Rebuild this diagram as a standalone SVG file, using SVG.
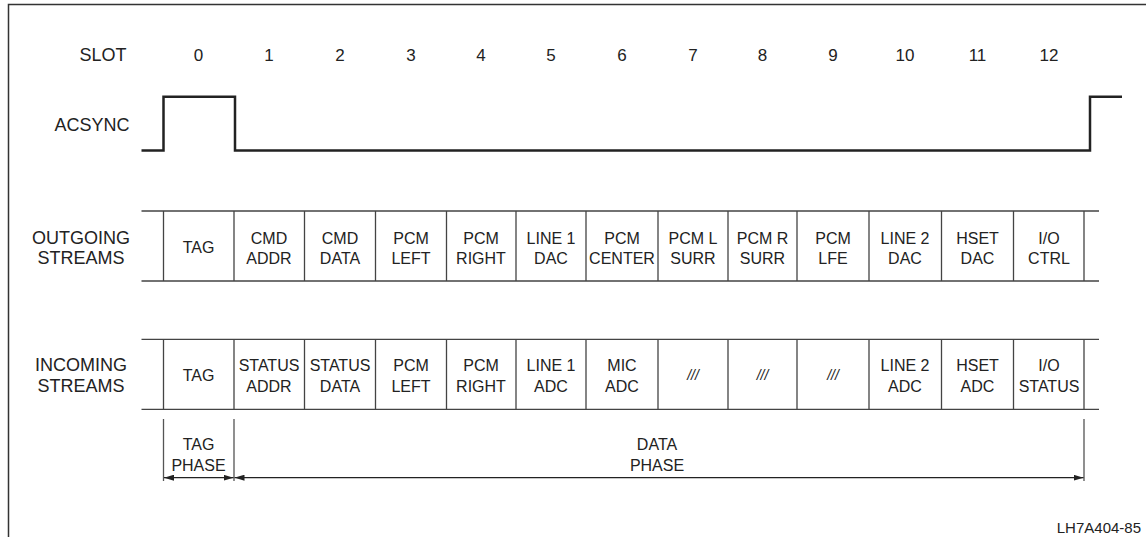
<svg xmlns="http://www.w3.org/2000/svg" width="1146" height="537" viewBox="0 0 1146 537">
<style>
text{font-family:"Liberation Sans",Arial,sans-serif;fill:#222;}
.lbl{font-size:18px;text-anchor:middle;}
.num{font-size:17px;text-anchor:middle;}
.cell{font-size:16px;text-anchor:middle;}
.na{font-size:14px;font-style:italic;text-anchor:middle;}
.frame{stroke:#333;stroke-width:1.5;fill:none;}
.grid{stroke:#444;stroke-width:1.3;fill:none;}
.sig{stroke:#222;stroke-width:2.5;fill:none;}
.dim{stroke:#222;stroke-width:1.2;fill:none;}
.ext{stroke:#555;stroke-width:1.3;fill:none;}
</style>
<defs>
<marker id="ah" viewBox="0 0 10 6" refX="10" refY="3" markerWidth="10" markerHeight="6" markerUnits="userSpaceOnUse" orient="auto-start-reverse">
<path d="M0,0 L10,3 L0,6 Z" fill="#222"/>
</marker>
</defs>
<g id="frame">
<path class="frame" d="M8.5,537 V4.5 H1146"/>
</g>
<g id="slot-row">
<text class="lbl" x="103" y="61">SLOT</text>
<text class="num" x="198.5" y="61">0</text>
<text class="num" x="269" y="61">1</text>
<text class="num" x="340" y="61">2</text>
<text class="num" x="411" y="61">3</text>
<text class="num" x="481" y="61">4</text>
<text class="num" x="551" y="61">5</text>
<text class="num" x="622" y="61">6</text>
<text class="num" x="693" y="61">7</text>
<text class="num" x="762.5" y="61">8</text>
<text class="num" x="833" y="61">9</text>
<text class="num" x="905" y="61">10</text>
<text class="num" x="977.5" y="61">11</text>
<text class="num" x="1049" y="61">12</text>
</g>
<g id="acsync">
<text class="lbl" x="92" y="131">ACSYNC</text>
<path class="sig" d="M141.5,150.5 H163.5 V96.8 H235 V150.5 H1090 V96.8 H1122"/>
</g>
<g id="outgoing">
<text class="lbl" x="81" y="243.5">OUTGOING</text>
<text class="lbl" x="81" y="263.5">STREAMS</text>
<path class="grid" d="M141.5,211 H1099 M141.5,281 H1099 M163.5,211 V281 M234,211 V281 M304.5,211 V281 M375.5,211 V281 M446.5,211 V281 M516,211 V281 M586,211 V281 M658,211 V281 M728,211 V281 M797,211 V281 M869,211 V281 M941.5,211 V281 M1013.5,211 V281 M1084,211 V281"/>
<text class="cell" x="198.5" y="252.5">TAG</text>
<text class="cell" x="269" y="243.5">CMD</text><text class="cell" x="269" y="263.5">ADDR</text>
<text class="cell" x="340" y="243.5">CMD</text><text class="cell" x="340" y="263.5">DATA</text>
<text class="cell" x="411" y="243.5">PCM</text><text class="cell" x="411" y="263.5">LEFT</text>
<text class="cell" x="481" y="243.5">PCM</text><text class="cell" x="481" y="263.5">RIGHT</text>
<text class="cell" x="551" y="243.5">LINE 1</text><text class="cell" x="551" y="263.5">DAC</text>
<text class="cell" x="622" y="243.5">PCM</text><text class="cell" x="622" y="263.5">CENTER</text>
<text class="cell" x="693" y="243.5">PCM L</text><text class="cell" x="693" y="263.5">SURR</text>
<text class="cell" x="762.5" y="243.5">PCM R</text><text class="cell" x="762.5" y="263.5">SURR</text>
<text class="cell" x="833" y="243.5">PCM</text><text class="cell" x="833" y="263.5">LFE</text>
<text class="cell" x="905" y="243.5">LINE 2</text><text class="cell" x="905" y="263.5">DAC</text>
<text class="cell" x="977.5" y="243.5">HSET</text><text class="cell" x="977.5" y="263.5">DAC</text>
<text class="cell" x="1049" y="243.5">I/O</text><text class="cell" x="1049" y="263.5">CTRL</text>
</g>
<g id="incoming">
<text class="lbl" x="81" y="371">INCOMING</text>
<text class="lbl" x="81" y="391.5">STREAMS</text>
<path class="grid" d="M141.5,339.3 H1099 M141.5,409.3 H1099 M163.5,339.3 V409.3 M234,339.3 V409.3 M304.5,339.3 V409.3 M375.5,339.3 V409.3 M446.5,339.3 V409.3 M516,339.3 V409.3 M586,339.3 V409.3 M658,339.3 V409.3 M728,339.3 V409.3 M797,339.3 V409.3 M869,339.3 V409.3 M941.5,339.3 V409.3 M1013.5,339.3 V409.3 M1084,339.3 V409.3"/>
<text class="cell" x="198.5" y="380.5">TAG</text>
<text class="cell" x="269" y="371">STATUS</text><text class="cell" x="269" y="391.5">ADDR</text>
<text class="cell" x="340" y="371">STATUS</text><text class="cell" x="340" y="391.5">DATA</text>
<text class="cell" x="411" y="371">PCM</text><text class="cell" x="411" y="391.5">LEFT</text>
<text class="cell" x="481" y="371">PCM</text><text class="cell" x="481" y="391.5">RIGHT</text>
<text class="cell" x="551" y="371">LINE 1</text><text class="cell" x="551" y="391.5">ADC</text>
<text class="cell" x="622" y="371">MIC</text><text class="cell" x="622" y="391.5">ADC</text>
<text class="na" x="693" y="380">///</text>
<text class="na" x="762.5" y="380">///</text>
<text class="na" x="833" y="380">///</text>
<text class="cell" x="905" y="371">LINE 2</text><text class="cell" x="905" y="391.5">ADC</text>
<text class="cell" x="977.5" y="371">HSET</text><text class="cell" x="977.5" y="391.5">ADC</text>
<text class="cell" x="1049" y="371">I/O</text><text class="cell" x="1049" y="391.5">STATUS</text>
</g>
<g id="tag-phase">
<text class="cell" x="198.5" y="450">TAG</text>
<text class="cell" x="198.5" y="470.5">PHASE</text>
</g>
<g id="data-phase">
<text class="cell" x="657" y="450">DATA</text>
<text class="cell" x="657" y="470.5">PHASE</text>
</g>
<g id="connectors">
<path class="ext" d="M163.5,419 V481 M234,419 V481 M1084,419 V481"/>
<line class="dim" x1="164" y1="477.7" x2="233.5" y2="477.7" marker-start="url(#ah)" marker-end="url(#ah)"/>
<line class="dim" x1="234.5" y1="477.7" x2="1083.5" y2="477.7" marker-start="url(#ah)" marker-end="url(#ah)"/>
</g>
<g id="ref">
<text x="1141" y="533" style="font-size:15px;text-anchor:end">LH7A404-85</text>
</g>
</svg>
